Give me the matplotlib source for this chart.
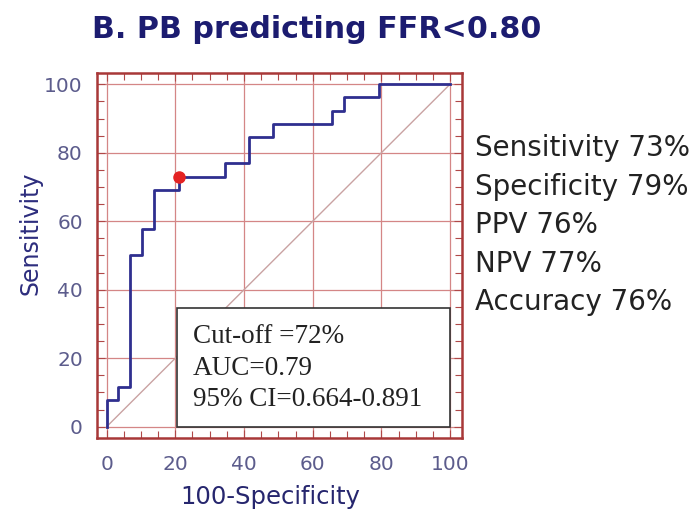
import matplotlib
matplotlib.use("Agg")
import matplotlib.pyplot as plt
from matplotlib.patches import Rectangle

# ROC curve corners: false positive rate (100-specificity) and sensitivity, in %
fpr = [0, 0, 3.4, 6.9, 10.3, 13.8, 21.0, 34.5, 41.4, 48.3, 65.5, 69.0, 79.3, 100]
tpr = [0, 7.7, 11.5, 50.0, 57.7, 69.2, 73.0, 76.9, 84.6, 88.5, 92.3, 96.2, 100, 100]

# chosen cut-off
cut_sens = 73
cut_spec = 79

stats_lbl = ["Sensitivity 73%", "Specificity 79%", "PPV 76%", "NPV 77%", "Accuracy 76%"]
box_lbl = ["Cut-off =72%", "AUC=0.79", "95% CI=0.664-0.891"]
ticks = [0, 20, 40, 60, 80, 100]

W, H = 697, 511
fig = plt.figure(figsize=(W / 100, H / 100), dpi=100)
fig.patch.set_facecolor("white")

ax = fig.add_axes([96.7 / W, 1 - 438 / H, 365 / W, 364.7 / H])
ax.set_xlim(-2.9, 103.4)
ax.set_ylim(-3.3, 103.2)

red_frame = "#a83838"
ax.set_xticks(ticks)
ax.set_yticks(ticks)
ax.set_xticks(range(0, 101, 5), minor=True)
ax.set_yticks(range(0, 101, 5), minor=True)
ax.grid(True, which="major", color="#d48686", lw=0.9, zorder=0)
ax.set_axisbelow(True)
ax.tick_params(which="both", direction="in", color="#b04848",
               top=True, right=True, width=0.8)
ax.tick_params(which="major", length=6)
ax.tick_params(which="minor", length=5)
ax.tick_params(axis="y", pad=10)
ax.tick_params(axis="x", pad=12)
for lbl in ax.get_xticklabels() + ax.get_yticklabels():
    lbl.set_fontsize(14.5)
    lbl.set_color("#5c5c8c")
for sp in ax.spines.values():
    sp.set_color(red_frame)
    sp.set_linewidth(1.8)

# chance line
ax.plot([0, 100], [0, 100], color="#c9a2a2", lw=1, zorder=1)

# ROC step curve
ax.step(fpr, tpr, where="post", color="#2f2f8f", lw=2, zorder=3)
ax.plot(100 - cut_spec, cut_sens, "o", color="#e42222", ms=8, zorder=5)

# summary box
ax.add_patch(Rectangle((20.6, 0), 79.4, 34.6, facecolor="white",
                       edgecolor="#333333", lw=1.2, zorder=4))
for txt, yb in zip(box_lbl, [24.4, 15.2, 6.0]):
    ax.text(25.1, yb, txt, family="Liberation Serif", fontsize=19.5,
            color="#222222", va="baseline", ha="left", zorder=6)

fig.text(270.5 / W, 1 - 504 / H, "100-Specificity", fontsize=17.5,
         color="#26266e", ha="center", va="baseline")
fig.text(30.5 / W, 1 - 233 / H, "Sensitivity", fontsize=17, rotation=90,
         color="#2d2d7d", ha="center", va="center")

fig.text(92 / W, 1 - 38.3 / H, "B. PB predicting FFR<0.80", fontsize=21.7,
         fontweight="bold", color="#1c1c70", ha="left", va="baseline")

for txt, yb in zip(stats_lbl, [156, 194.5, 233, 271.5, 310]):
    fig.text(475 / W, 1 - yb / H, txt, fontsize=20, color="#222222",
             ha="left", va="baseline")

fig.savefig("out.png", dpi=100)
